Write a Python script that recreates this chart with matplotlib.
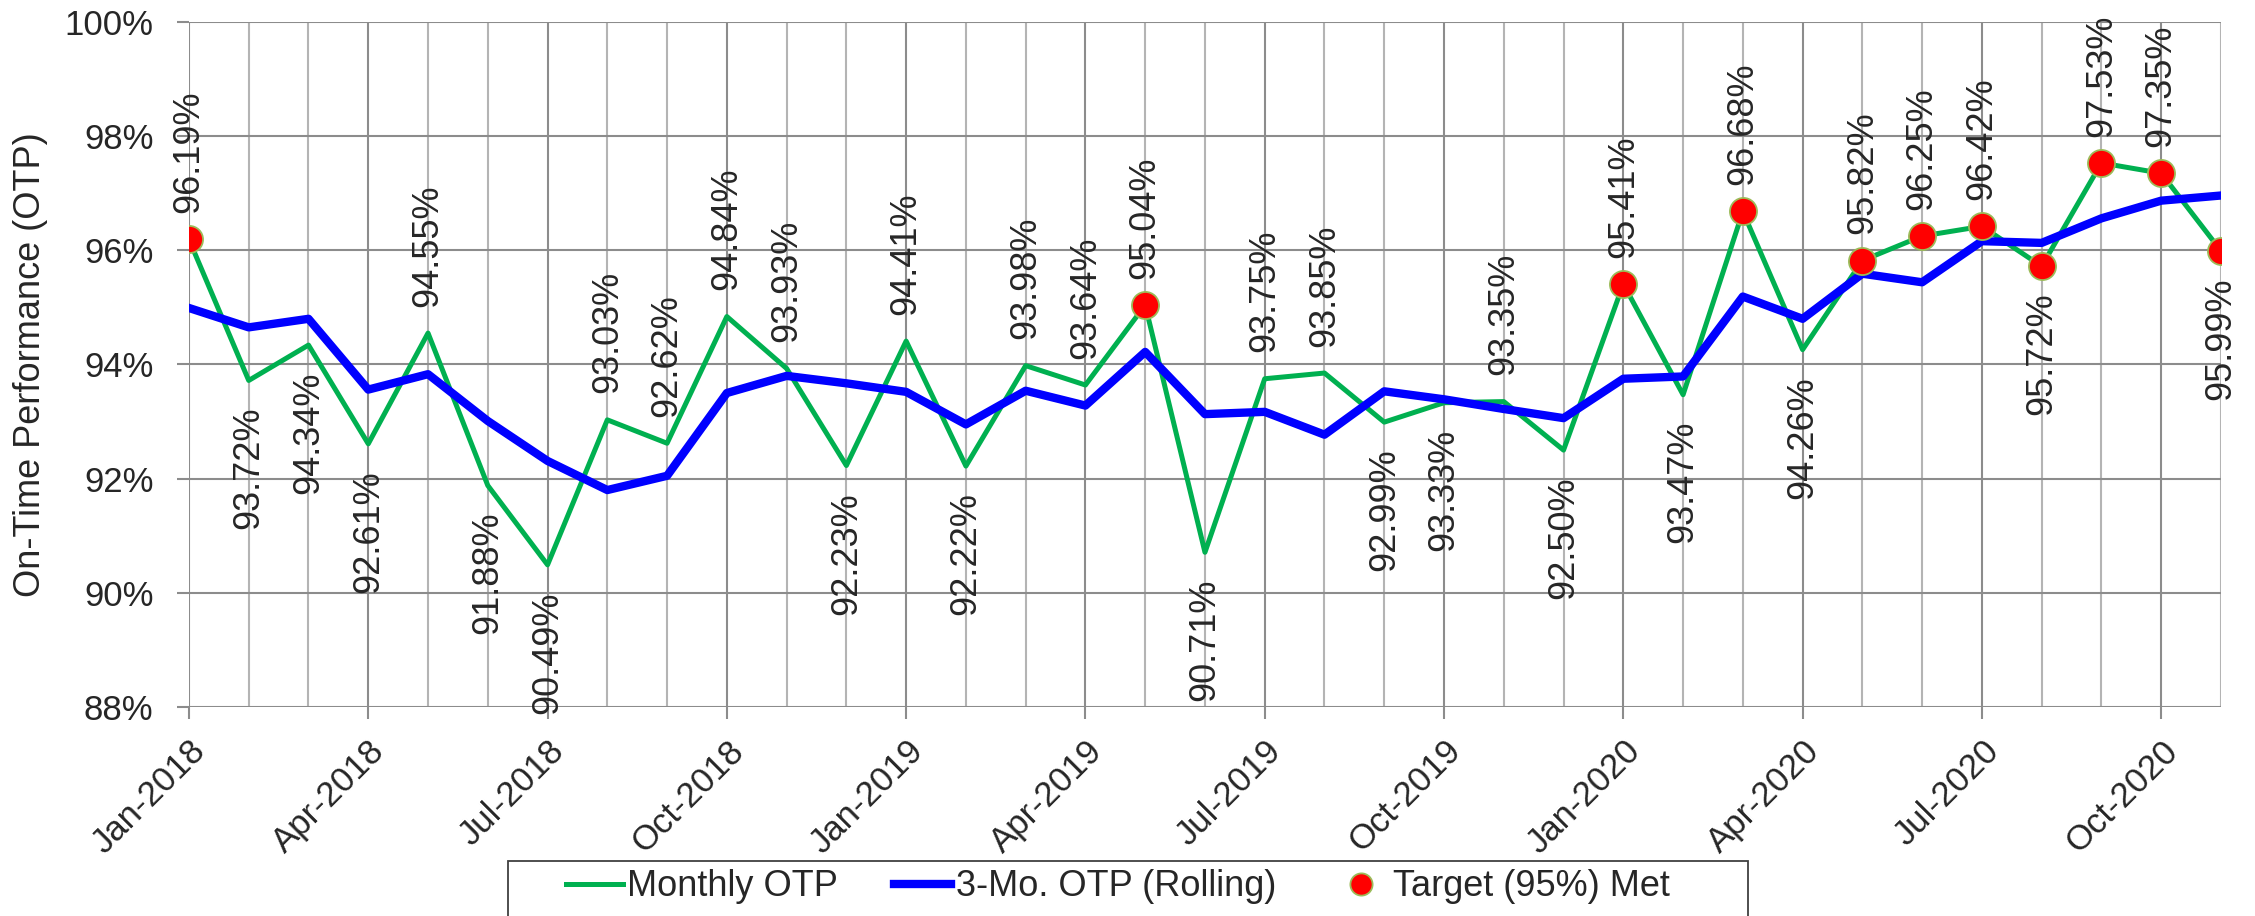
import matplotlib
matplotlib.use("Agg")
import matplotlib.pyplot as plt
from matplotlib.patches import Rectangle
from matplotlib.ticker import FuncFormatter, MultipleLocator

plt.rcParams["font.family"] = ["Liberation Sans", "DejaVu Sans"]

# ─────────────────────────────────────────────
# DATA
# ─────────────────────────────────────────────
months = [
    "Jan-2018", "Feb-2018", "Mar-2018", "Apr-2018", "May-2018", "Jun-2018",
    "Jul-2018", "Aug-2018", "Sep-2018", "Oct-2018", "Nov-2018", "Dec-2018",
    "Jan-2019", "Feb-2019", "Mar-2019", "Apr-2019", "May-2019", "Jun-2019",
    "Jul-2019", "Aug-2019", "Sep-2019", "Oct-2019", "Nov-2019", "Dec-2019",
    "Jan-2020", "Feb-2020", "Mar-2020", "Apr-2020", "May-2020", "Jun-2020",
    "Jul-2020", "Aug-2020", "Sep-2020", "Oct-2020", "Nov-2020",
]

monthly_otp = [
    96.19, 93.72, 94.34, 92.61, 94.55, 91.88,
    90.49, 93.03, 92.62, 94.84, 93.93, 92.23,
    94.41, 92.22, 93.98, 93.64, 95.04, 90.71,
    93.75, 93.85, 92.99, 93.33, 93.35, 92.50,
    95.41, 93.47, 96.68, 94.26, 95.82, 96.25,
    96.42, 95.72, 97.53, 97.35, 95.99,
]

rolling_otp = [
    94.99, 94.65, 94.80, 93.56, 93.83, 93.01,
    92.31, 91.80, 92.05, 93.50, 93.80, 93.67,
    93.52, 92.95, 93.54, 93.28, 94.22, 93.13,
    93.17, 92.77, 93.53, 93.39, 93.22, 93.06,
    93.75, 93.79, 95.19, 94.80, 95.59, 95.44,
    96.16, 96.13, 96.56, 96.87, 96.96,
]

# label goes above (1) or below (0) the point
label_above = [
    1, 0, 0, 0, 1, 0,
    0, 1, 1, 1, 1, 0,
    1, 0, 1, 1, 1, 0,
    1, 1, 0, 0, 1, 0,
    1, 0, 1, 0, 1, 1,
    1, 0, 1, 1, 0,
]

target = 95.0

# ─────────────────────────────────────────────
# FIGURE
# ─────────────────────────────────────────────
fig = plt.figure(figsize=(22.55, 9.16), dpi=100)
ax = fig.add_axes([0.0838, 0.2282, 0.9011, 0.7478])

x = list(range(len(months)))
text_color = "#262626"

ax.plot(x, monthly_otp, color="#00B050", lw=3.6, label="Monthly OTP", zorder=3)
ax.plot(x, rolling_otp, color="#0000FF", lw=6, label="3-Mo. OTP (Rolling)", zorder=4)

met_x = [i for i, v in zip(x, monthly_otp) if v >= target]
met_y = [v for v in monthly_otp if v >= target]
ax.plot(met_x, met_y, ls="none", marker="o", markersize=19.5,
        markerfacecolor="#FF0000", markeredgecolor="#9BBB59", markeredgewidth=1.3,
        label="Target (95%) Met", zorder=5)

# data labels
for i, v, up in zip(x, monthly_otp, label_above):
    ax.annotate(f"{v:.2f}%", (i, v),
                xytext=(0, 19 if up else -19), textcoords="offset points",
                rotation=90, rotation_mode="anchor",
                ha="left" if up else "right", va="center",
                fontsize=26, color=text_color, zorder=6)

# ─────────────────────────────────────────────
# AXES STYLE
# ─────────────────────────────────────────────
ax.set_xlim(0, len(months) - 1)
ax.set_ylim(88, 100)

ax.yaxis.set_major_locator(MultipleLocator(2))
ax.yaxis.set_major_formatter(FuncFormatter(lambda v, p: f"{v:.0f}%"))

ax.set_xticks(x[::3])
ax.set_xticklabels(months[::3], rotation=45, ha="right", rotation_mode="anchor")
ax.set_xticks(x, minor=True)

for s in ax.spines.values():
    s.set_visible(False)

ax.grid(True, which="major", axis="both", color="#8c8c8c", lw=1.5, zorder=0)
ax.grid(True, which="minor", axis="x", color="#b4b4b4", lw=1.5, zorder=0)
ax.set_axisbelow(True)

ax.tick_params(axis="both", which="major", length=8.5, width=1.5, color="#8c8c8c",
               labelcolor=text_color)
ax.tick_params(axis="x", which="major", labelsize=25, pad=11)
ax.tick_params(axis="y", which="major", labelsize=25, pad=17)
ax.tick_params(axis="x", which="minor", length=0)

ax.set_ylabel("On-Time Performance (OTP)", fontsize=26, color=text_color, labelpad=12)

# legend box sits at the bottom edge, cut off by the figure
fig.patches.append(Rectangle((508 / 2255, -0.02), 1240 / 2255, 0.02 + 55 / 916,
                             transform=fig.transFigure, fill=False,
                             edgecolor="#404040", lw=1.3))

leg = fig.legend(loc="center left", bbox_to_anchor=(566 / 2255, 1 - 887 / 916),
                 bbox_transform=fig.transFigure, ncol=3, fontsize=26,
                 frameon=False, borderpad=0, borderaxespad=0,
                 handlelength=1.58, handletextpad=0.12, columnspacing=1.55,
                 markerscale=0.82)
for t in leg.get_texts():
    t.set_color(text_color)

fig.savefig("out.png", dpi=100)
